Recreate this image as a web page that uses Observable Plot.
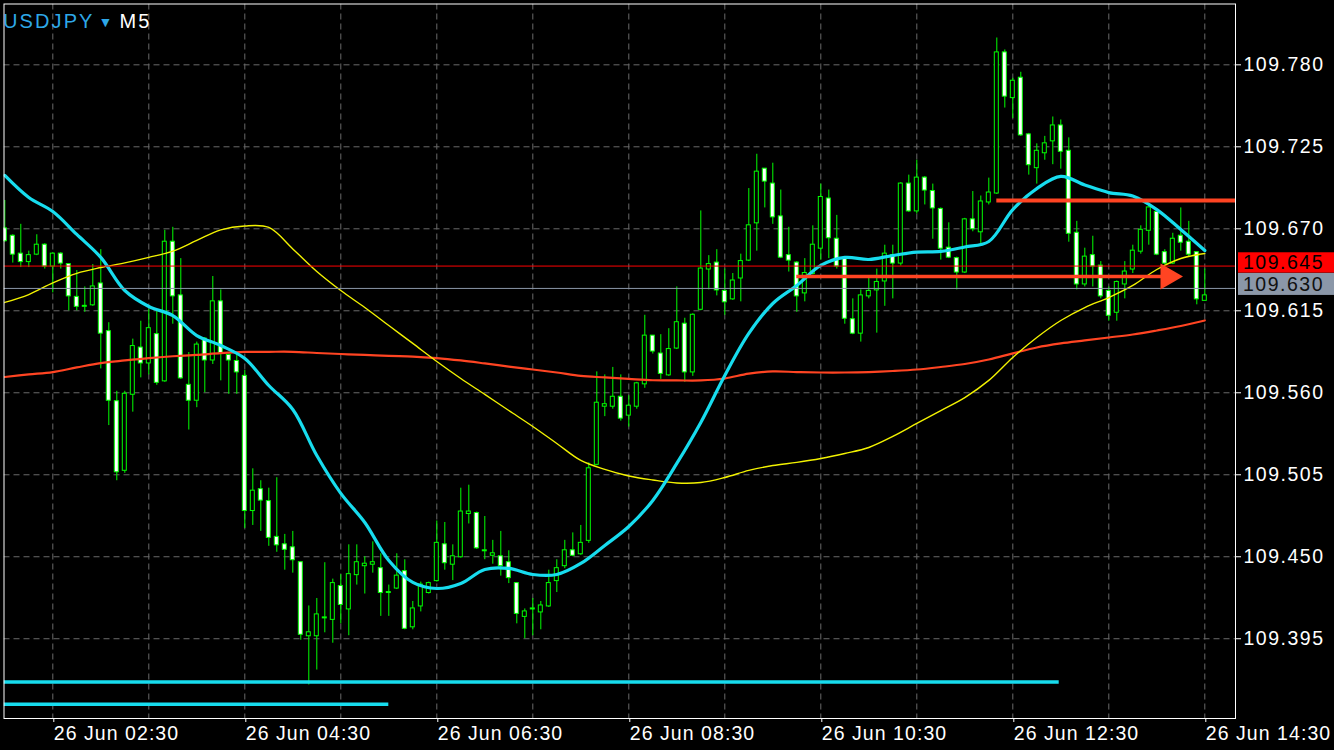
<!DOCTYPE html>
<html>
<head>
<meta charset="utf-8">
<script src="https://cdn.jsdelivr.net/npm/d3@7"></script>
<script src="https://cdn.jsdelivr.net/npm/@observablehq/plot@0.6"></script>
<style>
  html, body { margin: 0; padding: 0; background: #000; }
  #wrap { position: relative; width: 1334px; height: 750px; overflow: hidden; background: #000; }
  #wrap svg { display: block; }
  #title { position: absolute; left: 3px; top: 11px; line-height: 20px; font-family: "Liberation Sans", Arial, sans-serif; font-size: 20px; letter-spacing: 2.1px; white-space: nowrap; }
  #title .sym { color: #2ea8e8; }
  #title .tri { color: #2ea8e8; font-size: 14px; vertical-align: 1px; margin-left: 4px; margin-right: 7px; letter-spacing: 0; }
  #title .tf { color: #ffffff; }
  g[aria-label="x-axis tick label"] { letter-spacing: 1.05px; }
</style>
</head>
<body>
<div id="wrap">
  <div id="title"><span class="sym">USDJPY</span><span class="tri">▼</span><span class="tf">M5</span></div>
</div>
<script>
// ---------- data (M5 bars, 26 Jun, starting 02:00) ----------
const firstBar = "02:00";
const open = [109.670,109.665,109.653,109.648,109.653,109.659,109.645,109.653,109.646,109.624,
109.618,109.619,109.633,109.601,109.554,109.508,109.559,109.590,109.580,109.599,
109.568,109.661,109.625,109.565,109.555,109.596,109.582,109.621,109.585,109.581,
109.571,109.481,109.495,109.487,109.463,109.458,109.456,109.446,109.397,109.397,
109.409,109.408,109.430,109.415,109.438,109.444,109.445,109.442,109.426,109.429,
109.440,109.403,109.417,109.426,109.434,109.458,109.445,109.450,109.479,109.479,
109.454,109.451,109.450,109.446,109.432,109.410,109.415,109.413,109.417,109.434,
109.444,109.454,109.452,109.461,109.512,109.551,109.551,109.557,109.545,109.551,
109.566,109.598,109.586,109.572,109.590,109.606,109.574,109.616,109.643,109.647,
109.628,109.623,109.637,109.649,109.674,109.710,109.700,109.678,109.652,109.647,
109.627,109.640,109.657,109.690,109.663,109.650,109.609,109.600,109.625,109.629,
109.635,109.652,109.647,109.700,109.682,109.704,109.695,109.683,109.657,109.650,
109.641,109.676,109.668,109.688,109.694,109.788,109.758,109.771,109.733,109.711,
109.721,109.729,109.739,109.722,109.667,109.633,109.652,109.645,109.628,109.614,
109.633,109.643,109.655,109.669,109.681,109.654,109.647,109.665,109.661,109.654,
109.622];
const high = [109.689,109.666,109.673,109.655,109.666,109.660,109.654,109.654,109.646,109.642,
109.631,109.646,109.656,109.607,109.561,109.561,109.596,109.608,109.616,109.615,
109.669,109.671,109.650,109.587,109.594,109.597,109.638,109.629,109.586,109.586,
109.575,109.509,109.501,109.496,109.503,109.465,109.467,109.446,109.417,109.422,
109.446,109.435,109.438,109.458,109.458,109.450,109.460,109.452,109.431,109.452,
109.448,109.420,109.433,109.433,109.474,109.473,109.458,109.496,109.498,109.480,
109.477,109.461,109.467,109.454,109.432,109.415,109.422,109.420,109.441,109.448,
109.461,109.466,109.471,109.513,109.574,109.572,109.577,109.572,109.558,109.567,
109.612,109.598,109.599,109.603,109.631,109.610,109.613,109.682,109.652,109.656,
109.643,109.640,109.653,109.697,109.720,109.710,109.714,109.696,109.671,109.648,
109.650,109.672,109.700,109.696,109.679,109.651,109.623,109.629,109.637,109.643,
109.659,109.659,109.701,109.706,109.716,109.705,109.700,109.684,109.674,109.651,
109.677,109.695,109.692,109.704,109.798,109.790,109.771,109.775,109.734,109.727,
109.732,109.745,109.743,109.731,109.675,109.657,109.665,109.648,109.631,109.635,
109.648,109.659,109.672,109.687,109.681,109.656,109.667,109.684,109.675,109.654,
109.643];
const low = [109.661,109.647,109.644,109.644,109.652,109.643,109.627,109.643,109.615,109.615,
109.614,109.618,109.576,109.538,109.501,109.506,109.547,109.570,109.572,109.565,
109.567,109.606,109.569,109.535,109.550,109.560,109.579,109.568,109.559,109.559,
109.469,109.471,109.467,109.457,109.453,109.441,109.439,109.394,109.364,109.374,
109.399,109.392,109.405,109.397,109.431,109.425,109.439,109.410,109.410,109.428,
109.401,109.401,109.413,109.425,109.433,109.441,109.434,109.449,109.472,109.455,
109.448,109.445,109.437,109.432,109.405,109.395,109.397,109.401,109.416,109.426,
109.442,109.450,109.451,109.459,109.511,109.544,109.549,109.541,109.537,109.549,
109.563,109.586,109.569,109.571,109.589,109.567,109.571,109.615,109.629,109.625,
109.612,109.622,109.621,109.648,109.655,109.684,109.673,109.650,109.641,109.614,
109.621,109.639,109.649,109.650,109.643,109.606,109.599,109.594,109.623,109.600,
109.618,109.623,109.645,109.681,109.680,109.686,109.663,109.649,109.650,109.629,
109.640,109.668,109.660,109.686,109.693,109.751,109.744,109.732,109.706,109.700,
109.716,109.713,109.710,109.661,109.629,109.631,109.631,109.623,109.608,109.608,
109.623,109.640,109.653,109.659,109.652,109.646,109.646,109.655,109.651,109.619,
109.622];
const close = [109.662,109.653,109.648,109.652,109.659,109.645,109.653,109.647,109.625,109.618,
109.618,109.631,109.600,109.555,109.507,109.559,109.591,109.580,109.603,109.567,
109.661,109.625,109.570,109.555,109.592,109.582,109.621,109.587,109.582,109.574,
109.481,109.494,109.488,109.463,109.458,109.455,109.448,109.398,109.399,109.411,
109.409,109.432,109.418,109.438,109.446,109.445,109.446,109.426,109.426,109.437,
109.402,109.415,109.431,109.432,109.459,109.446,109.450,109.480,109.480,109.456,
109.454,109.452,109.444,109.436,109.412,109.413,109.415,109.417,109.432,109.442,
109.454,109.451,109.459,109.509,109.553,109.552,109.557,109.543,109.551,109.566,
109.598,109.588,109.573,109.589,109.607,109.574,109.612,109.643,109.646,109.629,
109.621,109.635,109.648,109.672,109.708,109.702,109.678,109.651,109.649,109.625,
109.640,109.659,109.691,109.664,109.645,109.610,109.600,109.625,109.628,109.634,
109.653,109.647,109.700,109.682,109.704,109.696,109.684,109.657,109.651,109.641,
109.676,109.670,109.688,109.694,109.788,109.759,109.769,109.733,109.713,109.722,
109.727,109.739,109.722,109.667,109.633,109.651,109.645,109.625,109.612,109.634,
109.641,109.655,109.669,109.684,109.653,109.647,109.663,109.661,109.653,109.623,
109.625];

// moving averages, read every 3rd bar
const maEvery = 3;
const maFast = [109.7058,109.6910,109.6816,109.6662,109.6508,109.6286,109.6179,109.6118,109.5984,109.5917,
109.5830,109.5649,109.5488,109.5179,109.4925,109.4730,109.4475,109.4328,109.4287,109.4321,
109.4415,109.4422,109.4381,109.4381,109.4455,109.4576,109.4703,109.4878,109.5126,109.5401,
109.5716,109.5998,109.6199,109.6320,109.6454,109.6508,109.6494,109.6521,109.6543,109.6548,
109.6578,109.6615,109.6829,109.6970,109.7052,109.6994,109.6943,109.6920,109.6829,109.6695,
109.6554];
const maMid = [109.6206,109.6259,109.6337,109.6401,109.6440,109.6471,109.6508,109.6550,109.6622,109.6693,
109.6719,109.6709,109.6565,109.6414,109.6286,109.6172,109.6051,109.5931,109.5810,109.5696,
109.5589,109.5481,109.5374,109.5260,109.5146,109.5086,109.5042,109.5015,109.4995,109.4998,
109.5032,109.5079,109.5112,109.5133,109.5159,109.5193,109.5233,109.5307,109.5394,109.5481,
109.5568,109.5683,109.5837,109.5971,109.6085,109.6172,109.6239,109.6320,109.6427,109.6501,
109.6534];
const maSlow = [109.5706,109.5723,109.5739,109.5770,109.5799,109.5817,109.5833,109.5845,109.5854,109.5866,
109.5874,109.5875,109.5875,109.5867,109.5860,109.5854,109.5847,109.5843,109.5833,109.5817,
109.5797,109.5776,109.5756,109.5736,109.5713,109.5703,109.5693,109.5684,109.5683,109.5683,
109.5696,109.5729,109.5743,109.5739,109.5736,109.5736,109.5739,109.5746,109.5756,109.5773,
109.5793,109.5823,109.5864,109.5904,109.5931,109.5951,109.5971,109.5991,109.6018,109.6048,
109.6085];

// axes
const yTicks = [109.395, 109.450, 109.505, 109.560, 109.615, 109.670, 109.725, 109.780];
const timeTicks = ["02:30", "04:30", "06:30", "08:30", "10:30", "12:30", "14:30"];
const gridTimes = ["02:30","03:30","04:30","05:30","06:30","07:30","08:30","09:30","10:30","11:30","12:30","13:30","14:30"];
const viewFrom = "01:59:30", viewTo = "14:49:11";
const yMin = 109.3415, yMax = 109.8208;

// price lines and chart objects
const askLine = 109.645, bidLine = 109.630;
const resistance = {price: 109.689, from: "12:20"};
const arrow = {price: 109.638, from: "10:15", headAt: "14:07"};
const supports = [{price: 109.366, to: "12:59"}, {price: 109.351, to: "06:00"}];

// ---------- build ----------
const day = [2018, 5, 26];
function at(hm) { const [h, m, s] = hm.split(":").map(Number); return new Date(Date.UTC(day[0], day[1], day[2], h, m, s || 0)); }
const t0 = at(firstBar).getTime();
const BAR = 5 * 60000;
const bars = open.map((o, i) => ({
  t: new Date(t0 + i * BAR), t1: new Date(t0 + i * BAR - BAR / 2), t2: new Date(t0 + i * BAR + BAR / 2),
  open: o, high: high[i], low: low[i], close: close[i]
}));
const maRows = arr => arr.map((v, j) => ({t: new Date(t0 + j * maEvery * BAR), v}));
const xDomain = [at(viewFrom), at(viewTo)];

const GREEN = "#00ff00";
const CYAN = "#17dcee";
const ORED = "#ff4422";

function priceTag(value, bg, fg, top, h) {
  return (index, scales, values, dims) => {
    const y = scales.y(value);
    const x0 = dims.width - dims.marginRight + 3;
    const g = d3.create("svg:g");
    g.append("rect").attr("x", x0).attr("y", y + top).attr("width", dims.width - x0).attr("height", h).attr("fill", bg);
    g.append("text").attr("x", x0 + 5).attr("y", y + top + h / 2).attr("dy", "0.36em")
      .attr("text-anchor", "start").attr("fill", fg).text(value.toFixed(3));
    return g.node();
  };
}

const chart = Plot.plot({
  width: 1334,
  height: 750,
  marginLeft: 3.5,
  marginRight: 99,
  marginTop: 3.5,
  marginBottom: 32,
  style: {background: "#000", color: "#fff", fontFamily: '"Liberation Sans", Arial, sans-serif', fontSize: "19.5px", letterSpacing: "1.5px"},
  x: {type: "utc", domain: xDomain},
  y: {domain: [yMin, yMax]},
  marks: [
    // grid
    Plot.ruleY(yTicks, {stroke: "#6a6a6a", strokeWidth: 1, strokeDasharray: "6,4", clip: true}),
    Plot.ruleX(gridTimes.map(at), {stroke: "#6a6a6a", strokeWidth: 1, strokeDasharray: "6,4", clip: true}),
    // candles
    Plot.ruleX(bars, {x: "t", y1: "low", y2: "high", stroke: GREEN, strokeWidth: 1, clip: true}),
    Plot.rect(bars.filter(d => d.close < d.open), {x1: "t1", x2: "t2", y1: "open", y2: "close", fill: "#fff", stroke: GREEN, strokeWidth: 1, insetLeft: 2, insetRight: 2, insetTop: -0.5, insetBottom: -0.5, clip: true}),
    Plot.rect(bars.filter(d => d.close >= d.open), {x1: "t1", x2: "t2", y1: "open", y2: "close", fill: "#000", stroke: GREEN, strokeWidth: 1, insetLeft: 2, insetRight: 2, insetTop: -0.5, insetBottom: -0.5, clip: true}),
    // moving averages
    Plot.line(maRows(maSlow), {x: "t", y: "v", stroke: ORED, strokeWidth: 2.2, curve: "catmull-rom", clip: true}),
    Plot.line(maRows(maMid), {x: "t", y: "v", stroke: "#f2f200", strokeWidth: 1.4, curve: "catmull-rom", clip: true}),
    Plot.line(maRows(maFast), {x: "t", y: "v", stroke: CYAN, strokeWidth: 3.2, curve: "catmull-rom", clip: true}),
    // price lines
    Plot.ruleY([askLine], {stroke: "#ff0000", strokeWidth: 1, clip: true}),
    Plot.ruleY([bidLine], {stroke: "#8b97a8", strokeWidth: 1, clip: true}),
    // objects
    Plot.ruleY([resistance], {y: "price", x1: d => at(d.from), x2: () => xDomain[1], stroke: ORED, strokeWidth: 4, clip: true}),
    Plot.ruleY([arrow], {y: "price", x1: d => at(d.from), x2: d => at(d.headAt), stroke: ORED, strokeWidth: 3.5, clip: true}),
    Plot.dot([arrow], {x: d => at(d.headAt), y: "price", symbol: "triangle2", r: 12.4, rotate: 90, fill: ORED, stroke: "none"}),
    Plot.ruleY(supports, {y: "price", x1: () => xDomain[0], x2: d => at(d.to), stroke: CYAN, strokeWidth: 3.5, clip: true}),
    // frame and axes
    Plot.frame({stroke: "#fff", strokeWidth: 1}),
    Plot.axisY(yTicks, {anchor: "right", tickSize: 5, tickPadding: 3, tickFormat: d => d.toFixed(3), stroke: "#fff", fill: "#fff"}),
    Plot.axisX(timeTicks.map(at), {anchor: "bottom", tickSize: 4, tickPadding: 4, tickFormat: d3.utcFormat("%d %b %H:%M"), textAnchor: "start", dx: 1, stroke: "#fff", fill: "#fff"}),
    priceTag(askLine, "#ff0000", "#000", -13.3, 20.4),
    priceTag(bidLine, "#8b97a8", "#111", -15, 22)
  ]
});
document.getElementById("wrap").prepend(chart);
</script>
</body>
</html>
